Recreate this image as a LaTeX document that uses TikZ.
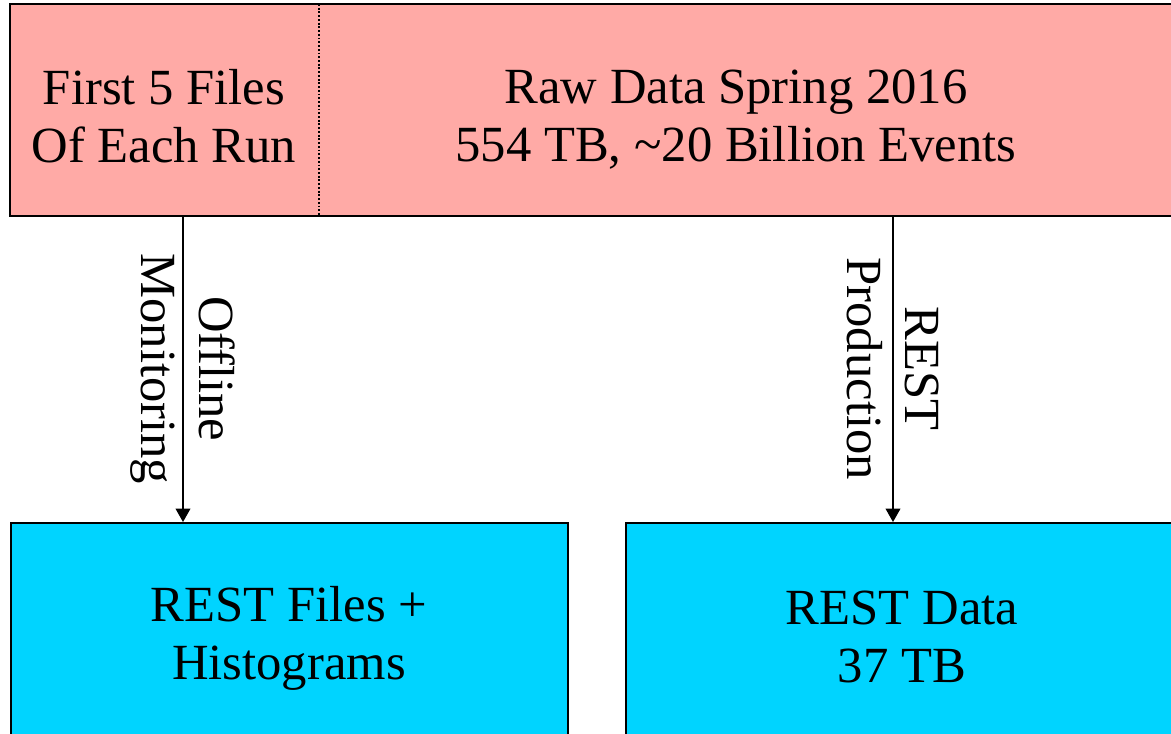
\documentclass[tikz,border=0pt]{standalone}
\usepackage{fontspec}
\setmainfont{Liberation Serif}
\usepackage{xcolor}
\usetikzlibrary{arrows.meta, math, positioning}
\definecolor{mypink}{RGB}{255,170,166}
\definecolor{mycyan}{RGB}{0,212,255}

\begin{document}
\begin{tikzpicture}[x=0.75pt, y=-0.75pt,
  box/.style={rectangle, inner sep=0, anchor=north west},
  txt/.style={align=center, font=\fontsize{38}{43.5}\selectfont},
  flow/.style={-{Triangle[length=10pt,width=11pt]}, line width=1.1pt}]
\useasboundingbox (0,0) rectangle (1171,733);
\clip (0,0) rectangle (1171,733);

% raw data row
\node[box, fill=mypink, minimum width=231pt, minimum height=158.25pt] (first) at (10,4) {};
\node[box, fill=mypink, minimum width=661.5pt, minimum height=158.25pt] (raw) at (318,4) {};
\draw[line width=1.5pt] (first.north west) rectangle (raw.south east);
\draw[dash pattern=on 1.4pt off 1.4pt, line width=1.5pt] (first.north east) -- (first.south east);
\node[txt] (firsttxt) at (164,116) {First 5 Files\\Of Each Run};
\node[txt] (rawtxt) at (736,120) {Raw Data Spring 2016\\554 TB, \textasciitilde20 Billion Events};

% REST row
\node[box, draw, line width=1.5pt, fill=mycyan, minimum width=417.75pt, minimum height=187.5pt] (histo) at (10,522) {};
\node[box, draw, line width=1.5pt, fill=mycyan, minimum width=431.25pt, minimum height=187.5pt] (rest) at (625,522) {};
\node[txt] (histotxt) at (289,638) {REST Files +\\Histograms};
\node[txt] (resttxt) at (902,637) {REST Data\\37 TB};

% processing steps
\path (183,0) coordinate (mcol) (893,0) coordinate (rcol);
\draw[flow] (mcol |- first.south) -- (mcol |- histo.north)
  node[midway, txt, rotate=-90] (monlbl) {Offline\\Monitoring};
\draw[flow] (rcol |- raw.south) -- (rcol |- rest.north)
  node[midway, txt, rotate=-90] (prodlbl) {REST\\Production};
\end{tikzpicture}
\end{document}
